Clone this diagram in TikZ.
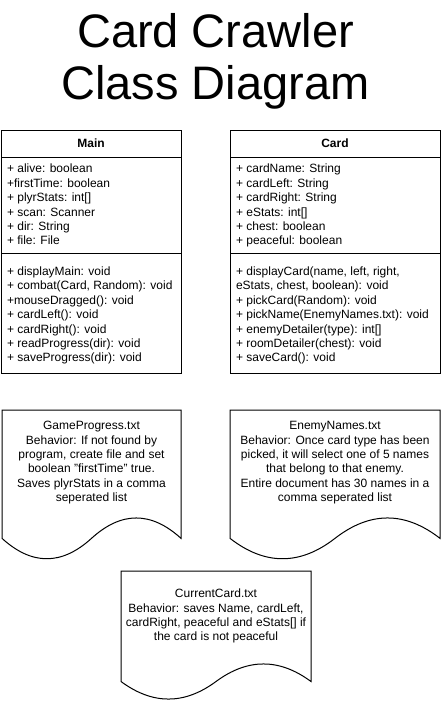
\documentclass[tikz,border=0pt]{standalone}
\usepackage{fontspec}
\setmainfont{Liberation Sans}
\newcommand\docshape[4]{%
  \pgfmathsetmacro\docX{#1}\pgfmathsetmacro\docY{#2}%
  \pgfmathsetmacro\docW{#3}\pgfmathsetmacro\docH{#4}%
  \pgfmathsetmacro\docD{0.3*\docH}%
  \pgfmathsetmacro\docE{\docY+\docH-\docD/2}%
  \pgfmathsetmacro\docA{\docE+2/3*(\docY+\docH-1.4*\docD-\docE)}%
  \pgfmathsetmacro\docB{\docE+2/3*(\docY+\docH+0.4*\docD-\docE)}%
  \draw[docline] (\docX,\docY) -- ({\docX+\docW},\docY) -- ({\docX+\docW},\docE)
    .. controls ({\docX+\docW-\docW/6},\docA) and ({\docX+\docW/2+\docW/6},\docA) .. ({\docX+\docW/2},\docE)
    .. controls ({\docX+\docW/2-\docW/6},\docB) and ({\docX+\docW/6},\docB) .. (\docX,\docE) -- cycle;
}
\begin{document}
\begin{tikzpicture}[x=1pt,y=-1pt, line width=1pt,
  classbox/.style={draw, rectangle, inner sep=0pt, anchor=north west},
  docline/.style={draw, line join=miter},
  lst/.style={anchor=north west, inner sep=0pt, align=left, font=\fontsize{12}{14.4}\selectfont},
  doctext/.style={anchor=north, inner sep=0pt, align=center, font=\fontsize{12}{14.4}\selectfont},
  hdr/.style={font=\fontsize{12}{14.4}\selectfont\bfseries, inner sep=0pt},
  titletext/.style={font=\fontsize{47}{52}\selectfont, inner sep=0pt, align=center, anchor=north}]
\useasboundingbox (0,0) rectangle (441,701);

% title
\node[titletext] (title) at (215.5,13) {\rule{0pt}{33.6pt}Card Crawler\\Class Diagram};

% Main class
\node[classbox, minimum width=180pt, minimum height=243pt] (mainbox) at (1,130) {};
\draw (1,157) -- (181,157);
\draw (1,253) -- (181,253);
\node[hdr] (mainhdr) at (91,143.5) {Main};
\node[lst] (mainattr) at (6.5,162.4) {\strut+ alive: boolean\\+firstTime: boolean\\+ plyrStats: int[]\\+ scan: Scanner\\+ dir: String\\+ file: File};
\node[lst] (mainmeth) at (6.5,264.9) {\strut+ displayMain: void\\+ combat(Card, Random): void\\+mouseDragged(): void\\+ cardLeft(): void\\+ cardRight(): void\\+ readProgress(dir): void\\+ saveProgress(dir): void};

% Card class
\node[classbox, minimum width=210pt, minimum height=243pt] (cardbox) at (230,130) {};
\draw (230,157) -- (440,157);
\draw (230,253) -- (440,253);
\node[hdr] (cardhdr) at (335,143.5) {Card};
\node[lst] (cardattr) at (235.5,162.4) {\strut+ cardName: String\\+ cardLeft: String\\+ cardRight: String\\+ eStats: int[]\\+ chest: boolean\\+ peaceful: boolean};
\node[lst] (cardmeth) at (235.5,264.9) {\strut+ displayCard(name, left, right,\\eStats, chest, boolean): void\\+ pickCard(Random): void\\+ pickName(EnemyNames.txt): void\\+ enemyDetailer(type): int[]\\+ roomDetailer(chest): void\\+ saveCard(): void};

% documents
\docshape{2}{410}{179}{151}
\node[doctext] (gameprog) at (91.5,419.2) {\strut GameProgress.txt\\Behavior: If not found by\\program, create file and set\\boolean "firstTime" true.\\Saves plyrStats in a comma\\seperated list};

\docshape{230}{410}{210}{151}
\node[doctext] (enemynames) at (335,419.2) {\strut EnemyNames.txt\\Behavior: Once card type has been\\picked, it will select one of 5 names\\that belong to that enemy.\\Entire document has 30 names in a\\comma seperated list};

\docshape{121}{571}{190}{130}
\node[doctext] (currentcard) at (216,587.2) {\strut CurrentCard.txt\\Behavior: saves Name, cardLeft,\\cardRight, peaceful and eStats[] if\\the card is not peaceful};
\end{tikzpicture}
\end{document}
